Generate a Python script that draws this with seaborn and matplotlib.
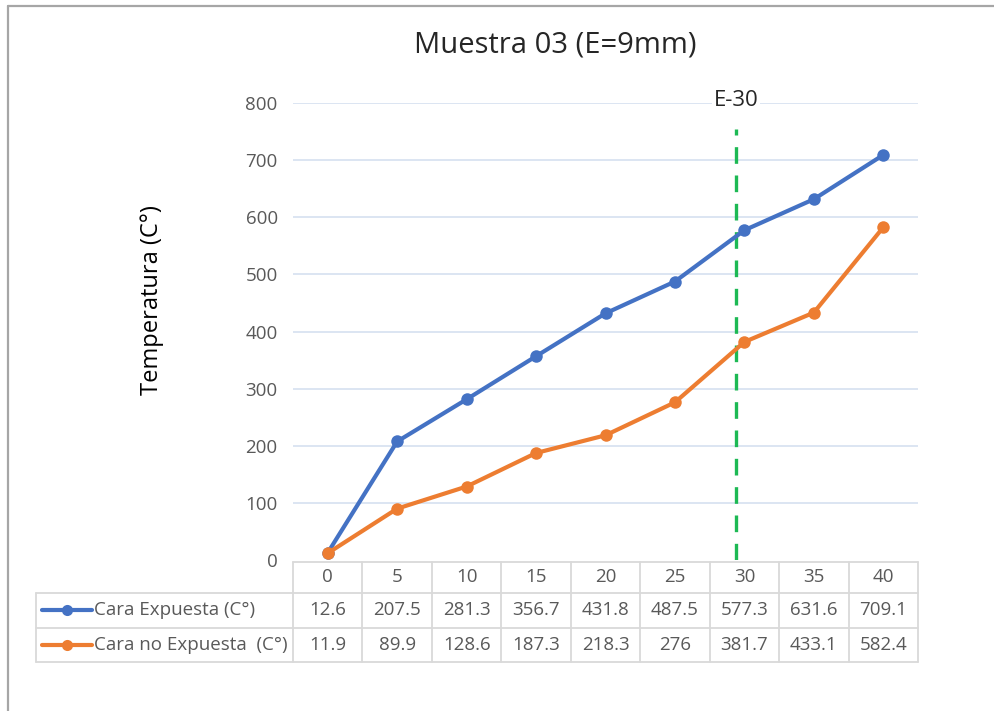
import matplotlib
matplotlib.use("Agg")
import matplotlib.pyplot as plt
import matplotlib.transforms as mtransforms
from matplotlib.lines import Line2D
import pandas as pd
import seaborn as sns

# Minutes of exposure and face temperatures
minutes = [0, 5, 10, 15, 20, 25, 30, 35, 40]
cara_expuesta = [12.6, 207.5, 281.3, 356.7, 431.8, 487.5, 577.3, 631.6, 709.1]
cara_no_expuesta = [11.9, 89.9, 128.6, 187.3, 218.3, 276, 381.7, 433.1, 582.4]
cara_no_expuesta_txt = ["11.9", "89.9", "128.6", "187.3", "218.3", "276", "381.7", "433.1", "582.4"]
series_names = ["Cara Expuesta (C°)", "Cara no Expuesta  (C°)"]
y_ticks = [0, 100, 200, 300, 400, 500, 600, 700, 800]
title = "Muestra 03 (E=9mm)"
y_label = "Temperatura (C°)"
marker_label = "E-30"
marker_minute = 29.4

BLUE = "#4472C4"
ORANGE = "#ED7D31"
GREEN = "#1DB954"
TEXT = "#595959"
GRID = "#D6E0F0"
TABLE = "#D9D9D9"
FS = 13.5

sns.set_theme(style="white")
plt.rcParams["font.family"] = ["Open Sans", "DejaVu Sans"]

df = pd.DataFrame({
    "min": minutes * 2,
    "temp": cara_expuesta + cara_no_expuesta,
    "serie": [series_names[0]] * len(minutes) + [series_names[1]] * len(minutes),
})

fig = plt.figure(figsize=(9.95, 7.11), dpi=100)
ax = fig.add_axes([0.2945, 0.2124, 0.6281, 0.6427])

sns.lineplot(data=df, x="min", y="temp", hue="serie",
             palette=[BLUE, ORANGE], marker="o", markersize=9,
             markeredgewidth=0, linewidth=3, ax=ax, legend=False,
             zorder=3)

ax.set_xlim(-2.5, 42.5)
ax.set_ylim(0, 800)
ax.set_yticks(y_ticks)
ax.set_yticklabels([str(v) for v in y_ticks], color=TEXT, fontsize=FS)
ax.tick_params(axis="y", length=0, pad=11)
ax.set_xticks([])
ax.set_xlabel("")
ax.set_ylabel("")
for s in ax.spines.values():
    s.set_visible(False)
for v in y_ticks[1:]:
    ax.axhline(v, color=GRID, linewidth=1.2, zorder=1)

# E-30 reference line
ax.plot([marker_minute, marker_minute], [0, 755], color=GREEN,
        linewidth=2.4, linestyle=(0, (5, 3.5)), zorder=2)
ax.text(marker_minute, 805, marker_label, ha="center", va="center",
        fontsize=16, color="#262626", zorder=4,
        bbox=dict(facecolor="white", edgecolor="none", pad=1))

fig.text(0.558, 0.937, title, ha="center", va="center", fontsize=21, color="#262626")
fig.text(0.153, 0.578, y_label, ha="center", va="center", rotation=90,
         fontsize=17, color="#000000")

# Data table under the plot
tr = mtransforms.blended_transform_factory(ax.transData, ax.transAxes)
edges = [m - 2.5 for m in minutes] + [minutes[-1] + 2.5]
label_left = -21.0
y_top, y_h, y_r1, y_bot = -0.004, -0.0716, -0.148, -0.2225
lw = 1.3
# horizontal borders
ax.plot([edges[0], edges[-1]], [y_top, y_top], color=TABLE, lw=lw, transform=tr, clip_on=False)
for yy in (y_h, y_r1, y_bot):
    ax.plot([label_left, edges[-1]], [yy, yy], color=TABLE, lw=lw, transform=tr, clip_on=False)
# vertical borders
for e in edges:
    ax.plot([e, e], [y_top, y_bot], color=TABLE, lw=lw, transform=tr, clip_on=False)
ax.plot([label_left, label_left], [y_h, y_bot], color=TABLE, lw=lw, transform=tr, clip_on=False)

rows = [[f"{v}" for v in cara_expuesta], cara_no_expuesta_txt]
for m in minutes:
    ax.text(m, (y_top + y_h) / 2, str(m), transform=tr, ha="center", va="center",
            fontsize=FS, color=TEXT, clip_on=False)
for r, (vals, name, col) in enumerate(zip(rows, series_names, [BLUE, ORANGE])):
    yc = [(y_h + y_r1) / 2, (y_r1 + y_bot) / 2][r]
    for m, t in zip(minutes, vals):
        ax.text(m, yc, t, transform=tr, ha="center", va="center",
                fontsize=FS, color=TEXT, clip_on=False)
    ax.add_line(Line2D([-20.6, -17.0], [yc, yc], color=col, lw=3, transform=tr, clip_on=False))
    ax.add_line(Line2D([-18.8], [yc], color=col, marker="o", markersize=8,
                       markeredgewidth=0, transform=tr, clip_on=False))
    ax.text(-16.8, yc, name, transform=tr, ha="left", va="center",
            fontsize=FS, color=TEXT, clip_on=False)

# frame edges along left and top
fig.add_artist(Line2D([0.0085, 0.0085], [0, 0.992], color="#A6A6A6", lw=1.6,
                      transform=fig.transFigure))
fig.add_artist(Line2D([0.0085, 1.0], [0.992, 0.992], color="#A6A6A6", lw=1.6,
                      transform=fig.transFigure))

fig.savefig("out.png", dpi=100)
